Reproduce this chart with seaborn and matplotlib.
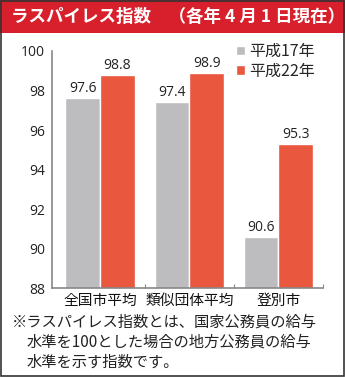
import matplotlib
matplotlib.use("Agg")
import matplotlib.pyplot as plt
import seaborn as sns
import pandas as pd
from matplotlib.patches import Rectangle
from matplotlib.ticker import FixedLocator

categories = ["全国市平均", "類似団体平均", "登別市"]
series_names = ["平成17年", "平成22年"]
values_h17 = [97.6, 97.4, 90.6]
values_h22 = [98.8, 98.9, 95.3]
yticks = [88, 90, 92, 94, 96, 98, 100]

title = "ラスパイレス指数　（各年 4 月 1 日現在）"
note = "※ラスパイレス指数とは、国家公務員の給与\n水準を100とした場合の地方公務員の給与\n水準を示す指数です。"

df = pd.DataFrame({
    "cat": categories * 2,
    "series": [series_names[0]] * 3 + [series_names[1]] * 3,
    "val": values_h17 + values_h22,
})

sns.set_theme(style="white")
plt.rcParams['font.family'] = ['Noto Sans CJK JP', 'DejaVu Sans']

fig = plt.figure(figsize=(3.45, 3.77), dpi=100)
ax = fig.add_axes([52/345, 1 - 288/377, (323 - 52)/345, (288 - 51)/377])

colors = ["#bdbdbf", "#e9573f"]
sns.barplot(data=df, x="cat", y="val", hue="series", palette=colors,
            width=0.78, saturation=1, ax=ax, legend=True)

ax.set_ylim(88, 100)
ax.set_xlim(-0.54, 2.5)
ax.set_yticks(yticks)
ax.set_yticklabels([str(t) for t in yticks], fontsize=10, color="#222222",
                   family=['Open Sans', 'DejaVu Sans'])
ax.set_xlabel("")
ax.set_ylabel("")
ax.tick_params(axis="x", length=0, labelsize=10.6, pad=4, colors="#111111")
ax.tick_params(axis="y", length=3, width=0.8, color="#888888", pad=2)
ax.xaxis.set_minor_locator(FixedLocator([0.5, 1.5, 2.5]))
ax.tick_params(axis="x", which="minor", direction="in", length=3, width=0.8, color="#888888", bottom=True)
for s in ["top", "right"]:
    ax.spines[s].set_visible(False)
for s in ["left", "bottom"]:
    ax.spines[s].set_color("#888888")
    ax.spines[s].set_linewidth(1.2)

for cont in ax.containers:
    ax.bar_label(cont, fmt="%.1f", fontsize=10, padding=1.5, color="#222222",
                 family=['Open Sans', 'DejaVu Sans'])

leg = ax.legend(loc="upper left", bbox_to_anchor=(0.655, 1.06), frameon=False,
                fontsize=11.5, handlelength=0.55, handleheight=0.55, handletextpad=0.3,
                labelspacing=0.15, borderaxespad=0)

# header band
fig.patches.append(Rectangle((0, 1 - 33/377), 1, 33/377, transform=fig.transFigure,
                             facecolor="#d8202c", edgecolor="none", zorder=0))
fig.text(0.033, 1 - 17/377, title, color="white", fontsize=12.6, fontweight="bold",
         va="center", ha="left")
# border
fig.patches.append(Rectangle((0.002, 0.002), 0.996, 0.996, transform=fig.transFigure,
                             facecolor="none", edgecolor="#333333", linewidth=1.2, zorder=5))

note_lines = note.split("\n")
note_x = [12, 27, 27]
for i, line in enumerate(note_lines):
    fig.text(note_x[i] / 345, 1 - (322 + 20 * i) / 377, line, fontsize=11, color="#222222",
             va="center", ha="left")

fig.savefig("out.png", dpi=100)
